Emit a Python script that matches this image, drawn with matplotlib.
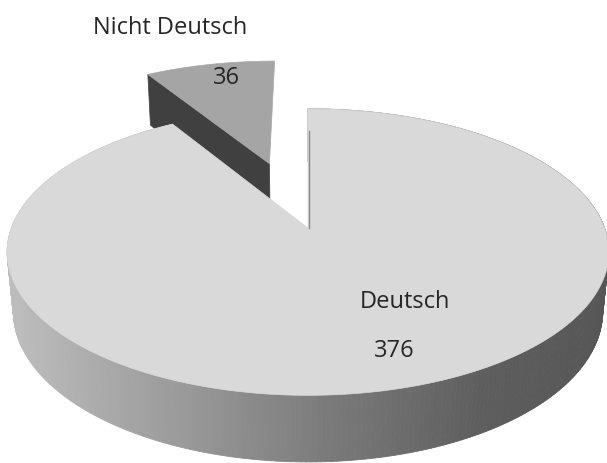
import numpy as np
import matplotlib.pyplot as plt
from matplotlib.patches import Polygon

# data
labels = ["Deutsch", "Nicht Deutsch"]
values = [376, 36]
explode = [0.0, 0.52]

top_colors = ["#d9d9d9", "#a5a5a5"]
wall_dark = "#404040"

# camera / perspective (pixel space)
CX, CY = 308, 228      # where the pie centre lands on screen
F, D = 1560.0, 5.26
ELEV = np.radians(28)
H = 0.23               # pie thickness (radius = 1)


def proj(x, y, z):
    s = y * np.sin(ELEV) + z * np.cos(ELEV)
    d = D + y * np.cos(ELEV) - z * np.sin(ELEV)
    return CX + F * x / d, CY - F * s / d


def rim(theta, off, z):
    # theta counter-clockwise from 12 o'clock
    x = -np.sin(theta) + off[0]
    y = np.cos(theta) + off[1]
    return proj(x, y, z)


def side_grey(px):
    xs = [10, 180, 330, 480, 607]
    gs = [190, 154, 122, 94, 86]
    g = np.interp(px, xs, gs) / 255.0
    return (g, g, g)


fig = plt.figure(figsize=(6.07, 4.63), dpi=100)
ax = fig.add_axes([0, 0, 1, 1])
ax.set_xlim(0, 607)
ax.set_ylim(463, 0)
ax.axis("off")

total = float(sum(values))
# Deutsch goes clockwise from 12 o'clock, so in ccw terms the slices are
# Nicht Deutsch: 0 .. a, Deutsch: a .. 2pi
a_nd = 2 * np.pi * values[1] / total
spans = {0: (a_nd, 2 * np.pi), 1: (0.0, a_nd)}


def offset(i):
    t0, t1 = spans[i]
    mid = (t0 + t1) / 2
    return (-np.sin(mid) * explode[i], np.cos(mid) * explode[i])


# ---- Nicht Deutsch (behind) ----
off = offset(1)
t0, t1 = spans[1]
vt = proj(off[0], off[1], 0)
vb = proj(off[0], off[1], -H)
rt = rim(t1, off, 0)
rb = rim(t1, off, -H)
ax.add_patch(Polygon([vt, rt, rb, vb], closed=True, fc=wall_dark, ec=wall_dark, lw=0.5))
th = np.linspace(t0, t1, 60)
pts = [vt] + [rim(t, off, 0) for t in th]
ax.add_patch(Polygon(pts, closed=True, fc=top_colors[1], ec=top_colors[1], lw=0.5))

# ---- Deutsch ----
off = offset(0)
t0, t1 = spans[0]
th = np.linspace(t0, t1, 400)
segs = []
for k in range(len(th) - 1):
    p1 = rim(th[k], off, 0)
    p2 = rim(th[k + 1], off, 0)
    p3 = rim(th[k + 1], off, -H)
    p4 = rim(th[k], off, -H)
    depth = np.cos((th[k] + th[k + 1]) / 2)
    segs.append((depth, [p1, p2, p3, p4]))
segs.sort(key=lambda s: -s[0])
for depth, quad in segs:
    c = side_grey(np.mean([q[0] for q in quad]))
    ax.add_patch(Polygon(quad, closed=True, fc=c, ec=c, lw=0.6))

vt = proj(off[0], off[1], 0)
pts = [vt] + [rim(t, off, 0) for t in th]
ax.add_patch(Polygon(pts, closed=True, fc=top_colors[0], ec=top_colors[0], lw=0.5))
# edge-on wall at 12 o'clock
r0 = rim(2 * np.pi, off, 0)
ax.plot([r0[0] + 1, r0[0] + 1], [r0[1] + 22, vt[1]], color="#8a8a8a", lw=1.0)

# labels
font = "Open Sans"
tc = "#262626"
fs = 17
ax.text(170, 28, labels[1], ha="center", va="center", fontsize=fs, family=font, color=tc)
ax.text(226, 78, str(values[1]), ha="center", va="center", fontsize=fs, family=font, color=tc)
ax.text(405, 302, labels[0], ha="center", va="center", fontsize=fs, family=font, color=tc)
ax.text(394, 351, str(values[0]), ha="center", va="center", fontsize=fs, family=font, color=tc)

fig.savefig("out.png", dpi=100)
